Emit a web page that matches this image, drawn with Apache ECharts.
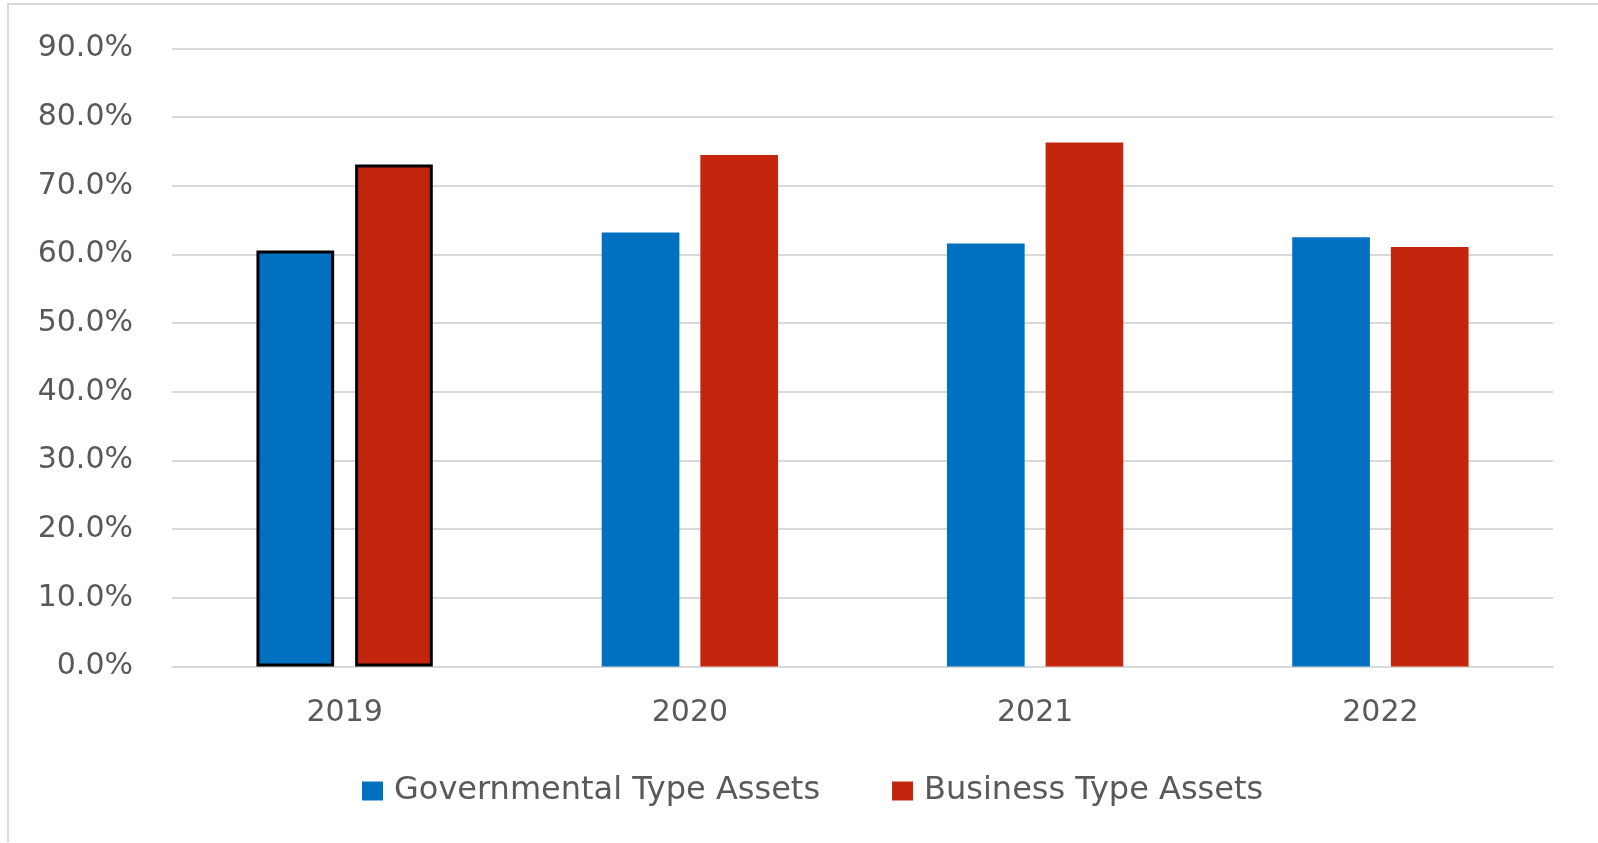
<!DOCTYPE html>
<html>
<head>
<meta charset="utf-8">
<script src="https://cdn.jsdelivr.net/npm/echarts@6/dist/echarts.min.js"></script>
<style>
html,body{margin:0;padding:0;background:#fff;}
#c{width:1598px;height:843px;}
</style>
</head>
<body>
<div id="c"></div>
<script>
var categories = ['2019', '2020', '2021', '2022'];
var governmental = [60.6, 63.2, 61.6, 62.5];
var business = [73.1, 74.5, 76.3, 61.1];
var yTicks = [0, 10, 20, 30, 40, 50, 60, 70, 80, 90];

function withHighlight(arr) {
  return arr.map(function (v, i) {
    if (i === 0) {
      return { value: v, itemStyle: { borderColor: '#000', borderWidth: 3 } };
    }
    return v;
  });
}

var chart = echarts.init(document.getElementById('c'));
chart.setOption({
  animation: false,
  backgroundColor: '#fff',
  textStyle: { fontFamily: 'DejaVu Sans' },
  graphic: [{
    type: 'polyline',
    shape: { points: [[8, 842], [8, 4], [1598, 4]] },
    style: { stroke: '#d9d9d9', lineWidth: 2, fill: null },
    silent: true
  }],
  grid: { left: 172, right: 45, top: 48.5, bottom: 176.5 },
  legend: {
    bottom: 31,
    left: 357,
    itemWidth: 21,
    itemHeight: 19,
    itemGap: 72,
    icon: 'rect',
    textStyle: { fontSize: 32, color: '#595959', fontFamily: 'DejaVu Sans', padding: [0, 0, 0, 6] },
    data: ['Governmental Type Assets', 'Business Type Assets']
  },
  xAxis: {
    type: 'category',
    data: categories,
    axisTick: { show: false },
    axisLine: { lineStyle: { color: '#d9d9d9', width: 2 } },
    axisLabel: { fontSize: 30, color: '#595959', margin: 32 }
  },
  yAxis: {
    type: 'value',
    min: 0,
    max: 90,
    interval: 10,
    axisLine: { show: false },
    axisTick: { show: false },
    splitLine: { lineStyle: { color: '#d9d9d9', width: 2 } },
    axisLabel: {
      fontSize: 30,
      color: '#595959',
      margin: 39,
      formatter: function (v) { return yTicks.indexOf(v) >= 0 ? v.toFixed(1) + '%' : ''; }
    }
  },
  series: [
    {
      name: 'Governmental Type Assets',
      type: 'bar',
      barWidth: '22.5%',
      barGap: '27%',
      itemStyle: { color: '#0070C0' },
      data: withHighlight(governmental)
    },
    {
      name: 'Business Type Assets',
      type: 'bar',
      barWidth: '22.5%',
      barGap: '27%',
      itemStyle: { color: '#C4260D' },
      data: withHighlight(business)
    }
  ]
});
</script>
</body>
</html>
